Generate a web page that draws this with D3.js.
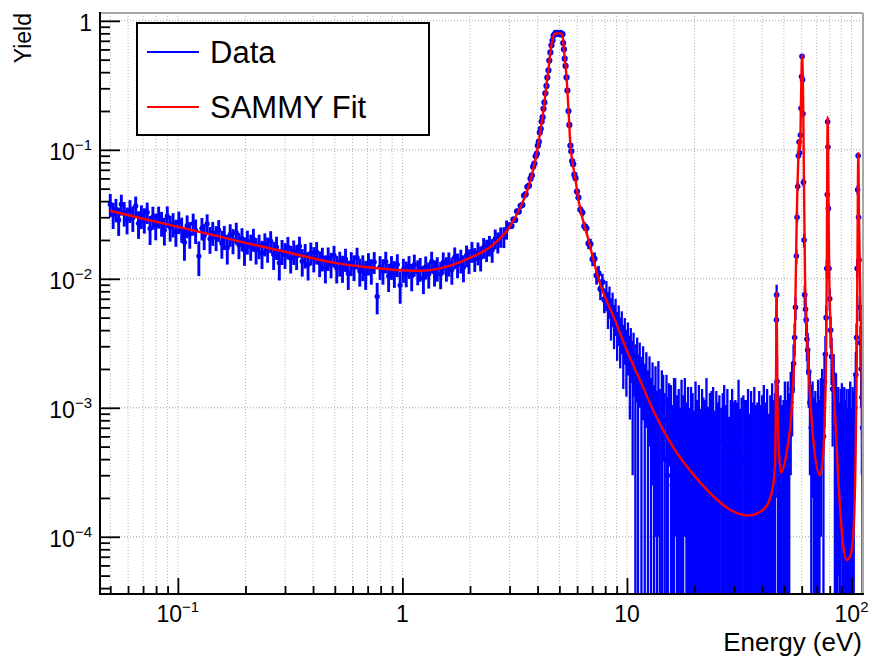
<!DOCTYPE html>
<html>
<head>
<meta charset="utf-8">
<script src="https://cdn.jsdelivr.net/npm/d3@7"></script>
<style>
body { margin: 0; background: #fff; }
text { font-family: "Liberation Sans", Arial, Helvetica, sans-serif; fill: #000; }
</style>
</head>
<body>
<script>
// ---------- values ----------
// axis ticks and labels
var xMajor = [0.1, 1, 10, 100];
var xLabels = [["10", "\u22121"], ["1", ""], ["10", ""], ["10", "2"]];
var yMajor = [1, 0.1, 0.01, 0.001, 0.0001];
var yLabels = [["1", ""], ["10", "\u22121"], ["10", "\u22122"], ["10", "\u22123"], ["10", "\u22124"]];
var legendNames = ["Data", "SAMMY Fit"];

// data points [energy eV, yield, error]
// 0.05 - 3 eV, flat part
var lowData = [
[0.050,0.0377,0.0077],[0.0515,0.0316,0.0073],[0.053,0.0345,0.0071],[0.0545,0.0286,0.0071],[0.056,0.0379,0.0070],
[0.0577,0.0324,0.0070],[0.0594,0.0289,0.0068],[0.0612,0.0339,0.0068],[0.063,0.0298,0.0067],[0.0649,0.0367,0.0067],
[0.0668,0.0269,0.0065],[0.0688,0.0307,0.0064],[0.0709,0.0288,0.0064],[0.073,0.0328,0.0062],[0.0752,0.0245,0.0062],
[0.0774,0.0301,0.0061],[0.0797,0.0260,0.0061],[0.0821,0.0304,0.0059],[0.0846,0.0271,0.0059],[0.0871,0.0239,0.0058],
[0.0897,0.0306,0.0058],[0.0924,0.0251,0.0057],[0.0952,0.0266,0.0057],[0.098,0.0232,0.0055],[0.101,0.0277,0.0055],
[0.104,0.0244,0.0054],[0.107,0.0192,0.0054],[0.110,0.0258,0.0052],[0.113,0.0223,0.0052],[0.117,0.0268,0.0052],
[0.120,0.0237,0.0051],[0.124,0.0150,0.0045],[0.128,0.0247,0.0049],[0.131,0.0216,0.0049],[0.135,0.0267,0.0049],
[0.139,0.0204,0.0048],[0.143,0.0228,0.0048],[0.148,0.0210,0.0046],[0.152,0.0239,0.0046],[0.157,0.0189,0.0046],
[0.161,0.0212,0.0045],[0.166,0.0174,0.0045],[0.171,0.0221,0.0044],[0.176,0.0199,0.0044],[0.182,0.0228,0.0044],
[0.187,0.0184,0.0042],[0.193,0.0205,0.0042],[0.198,0.0168,0.0042],[0.204,0.0195,0.0041],[0.211,0.0179,0.0041],
[0.217,0.0203,0.0041],[0.223,0.0168,0.0039],[0.230,0.0181,0.0039],[0.237,0.0158,0.0039],[0.244,0.0187,0.0038],
[0.251,0.0171,0.0038],[0.259,0.0196,0.0038],[0.267,0.0155,0.0038],[0.275,0.0176,0.0036],[0.283,0.0133,0.0036],
[0.291,0.0164,0.0036],[0.300,0.0154,0.0035],[0.309,0.0176,0.0035],[0.318,0.0145,0.0035],[0.328,0.0163,0.0035],
[0.338,0.0150,0.0033],[0.348,0.0179,0.0033],[0.358,0.0137,0.0033],[0.369,0.0153,0.0033],[0.380,0.0129,0.0032],
[0.391,0.0159,0.0032],[0.403,0.0144,0.0032],[0.415,0.0161,0.0032],[0.428,0.0133,0.0030],[0.440,0.0144,0.0030],
[0.454,0.0122,0.0030],[0.467,0.0145,0.0030],[0.481,0.0130,0.0029],[0.496,0.0151,0.0029],[0.510,0.0121,0.0029],
[0.526,0.0133,0.0029],[0.541,0.0122,0.0029],[0.558,0.0142,0.0029],[0.574,0.0110,0.0028],[0.592,0.0133,0.0028],
[0.609,0.0124,0.0028],[0.628,0.0146,0.0028],[0.646,0.0115,0.0028],[0.666,0.0124,0.0028],[0.686,0.0110,0.0028],
[0.706,0.0132,0.0026],[0.727,0.0116,0.0026],[0.749,0.0135,0.0026],[0.772,0.0073,0.0020],[0.795,0.0124,0.0026],
[0.819,0.0116,0.0026],[0.843,0.0136,0.0026],[0.868,0.0105,0.0026],[0.894,0.0124,0.0026],[0.921,0.0111,0.0026],
[0.949,0.0129,0.0026],[0.977,0.0089,0.0025],[1.01,0.0118,0.0025],[1.04,0.0111,0.0025],[1.07,0.0125,0.0025],
[1.10,0.0105,0.0025],[1.13,0.0129,0.0025],[1.17,0.0114,0.0025],[1.20,0.0120,0.0025],[1.24,0.0101,0.0025],
[1.27,0.0124,0.0025],[1.31,0.0109,0.0025],[1.35,0.0136,0.0026],[1.39,0.0113,0.0026],[1.43,0.0121,0.0026],
[1.48,0.0109,0.0026],[1.52,0.0134,0.0026],[1.57,0.0121,0.0026],[1.61,0.0132,0.0028],[1.66,0.0118,0.0028],
[1.71,0.0147,0.0028],[1.76,0.0129,0.0028],[1.82,0.0139,0.0029],[1.87,0.0123,0.0029],[1.93,0.0152,0.0029],
[1.98,0.0139,0.0030],[2.04,0.0163,0.0030],[2.10,0.0143,0.0030],[2.17,0.0159,0.0032],[2.23,0.0146,0.0032],
[2.30,0.0175,0.0032],[2.37,0.0168,0.0033],[2.44,0.0182,0.0033],[2.51,0.0168,0.0035],[2.59,0.0205,0.0036],
[2.66,0.0193,0.0036],[2.74,0.0212,0.0038],[2.83,0.0212,0.0039],[2.91,0.0242,0.0041]
];

// 3 - 8 eV, the big resonance
var resData = [
[3.00,0.0260,0.0014],[3.06,0.0257,0.0014],[3.12,0.0288,0.0015],[3.18,0.0286,0.0015],[3.24,0.0334,0.0016],
[3.30,0.0332,0.0016],[3.36,0.0368,0.0017],[3.42,0.0374,0.0018],[3.48,0.0442,0.0019],[3.54,0.0453,0.0020],
[3.60,0.0517,0.0021],[3.66,0.0527,0.0022],[3.72,0.0597,0.0023],[3.77,0.0634,0.0024],[3.82,0.0740,0.0026],
[3.87,0.0783,0.0027],[3.92,0.0890,0.0029],[3.97,0.0933,0.0030],[4.01,0.1076,0.0032],[4.05,0.1156,0.0034],
[4.09,0.136,0.0036],[4.13,0.1455,0.0038],[4.17,0.1656,0.0040],[4.21,0.179,0.0042],[4.25,0.208,0.0045],
[4.29,0.233,0.0048],[4.33,0.274,0.0052],[4.38,0.313,0.0055],[4.42,0.363,0.0059],[4.47,0.413,0.0063],
[4.51,0.492,0.0068],[4.56,0.569,0.0074],[4.61,0.646,0.0078],[4.66,0.703,0.0082],[4.71,0.768,0.0085],
[4.76,0.782,0.0087],[4.81,0.808,0.0088],[4.86,0.792,0.0088],[4.91,0.808,0.0088],[4.96,0.800,0.0088],
[5.01,0.792,0.0088],[5.06,0.808,0.0088],[5.11,0.782,0.0087],[5.16,0.788,0.0087],[5.20,0.673,0.0082],
[5.24,0.602,0.0078],[5.28,0.509,0.0072],[5.33,0.447,0.0067],[5.38,0.364,0.0061],[5.43,0.288,0.0055],
[5.49,0.200,0.0046],[5.54,0.156,0.0041],[5.60,0.108,0.0035],[5.65,0.0974,0.0033],[5.70,0.0819,0.0030],
[5.76,0.0774,0.0030],[5.83,0.0642,0.0028],[5.90,0.0603,0.0027],[5.99,0.0475,0.0025],[6.08,0.0426,0.0024],
[6.20,0.0344,0.0022],[6.33,0.0326,0.0022],[6.46,0.0256,0.0020],[6.60,0.0246,0.0020],[6.74,0.0188,0.0018],
[6.88,0.0186,0.0018],[7.03,0.0142,0.0017],[7.17,0.0143,0.0017],[7.32,0.0106,0.0016],[7.47,0.0110,0.0016],
[7.62,0.00834,0.0015],[7.77,0.00943,0.0015],[7.93,0.00692,0.0015]
];

// 8 - 46 eV, low statistics tail
var tailData = [
[8.10,0.00760,0.0020],[8.23,0.00598,0.0019],[8.36,0.00680,0.0019],[8.49,0.00512,0.0018],[8.63,0.00601,0.0018],
[8.76,0.00455,0.0017],[8.90,0.00530,0.0017],[9.04,0.00391,0.0016],[9.19,0.00462,0.0016],[9.33,0.00352,0.0015],
[9.48,0.00410,0.0015],[9.63,0.00290,0.0015],[9.78,0.00356,0.0014],[9.94,0.00262,0.0014],[10.1,0.00318,0.0014],
[10.3,0.00221,0.0014],[10.4,0.00285,0.0013],[10.6,0.00180,0.0015],[10.7,0.00252,0.0013],[10.9,0.00150,0.0016],
[11.1,0.00230,0.0012],[11.2,0.00120,0.0014],[11.4,0.00210,0.0011],[11.6,0.00118,0.0013],[11.8,0.00190,0.0011],
[12.0,0.00100,0.0012],[12.2,0.00170,0.0010],[12.4,0.00085,0.0011],[12.6,0.00150,0.0010],[12.8,0.00070,0.0010],
[13.0,0.00125,0.0010],[13.2,0.00060,0.0009],[13.4,0.00110,0.0010],[13.6,0.00045,0.0009],[13.8,0.00120,0.0011],
[14.0,0.00050,0.0009],[14.3,0.00085,0.0011],[14.5,0.00110,0.0007],[14.7,0.00040,0.0009],[15.0,0.00080,0.0010],
[15.2,0.00030,0.0009],[15.4,0.00095,0.0006],[15.7,0.00060,0.0009],[15.9,0.00025,0.0008],[16.2,0.00070,0.0010],
[16.4,0.00090,0.0008],[16.7,0.00035,0.0009],[17.0,0.00060,0.0008],[17.2,0.00020,0.0008],[17.5,0.00075,0.0009],
[17.8,0.00045,0.0008],[18.1,0.00090,0.0008],[18.4,0.00030,0.0008],[18.7,0.00055,0.0009],[19.0,0.00020,0.0008],
[19.3,0.00065,0.0008],[19.6,0.00040,0.0009],[19.9,0.00025,0.0007],[20.2,0.00070,0.0009],[20.5,0.00035,0.0008],
[20.9,0.00050,0.0010],[21.2,0.00018,0.0008],[21.6,0.00060,0.0008],[21.9,0.00030,0.0009],[22.3,0.00045,0.0007],
[22.6,0.00080,0.0009],[23.0,0.00022,0.0008],[23.4,0.00050,0.0008],[23.8,0.00035,0.0010],[24.2,0.00065,0.0008],
[24.6,0.00015,0.0008],[25.0,0.00045,0.0009],[25.4,0.00030,0.0008],[25.8,0.00055,0.0007],[26.3,0.00020,0.0008],
[26.7,0.00040,0.0009],[27.1,0.00070,0.0008],[27.6,0.00025,0.0008],[28.0,0.00050,0.0009],[28.5,0.00015,0.0007],
[29.0,0.00035,0.0008],[29.4,0.00060,0.0008],[29.9,0.00022,0.0009],[30.4,0.00045,0.0007],[30.9,0.00030,0.0008],
[31.4,0.00075,0.0009],[31.9,0.00018,0.0008],[32.4,0.00040,0.0008],[33.0,0.00055,0.0007],[33.5,0.00025,0.0009],
[34.0,0.00035,0.0008],[34.6,0.00060,0.0008],[35.2,0.00020,0.0007],[35.7,0.00045,0.0009],[36.3,0.00030,0.0008],
[36.9,0.00065,0.0008],[37.5,0.00015,0.0009],[38.1,0.00040,0.0007],[38.8,0.00055,0.0008],[39.4,0.00025,0.0008],
[40.0,0.00035,0.0009],[40.7,0.00070,0.0008],[41.4,0.00030,0.0008],[42.1,0.00050,0.0009],[42.8,0.00020,0.0007],
[43.5,0.00045,0.0008],[44.3,0.00065,0.0009],[45.0,0.00035,0.0008],[45.6,0.00060,0.0007]
];

// 46 - 113 eV, small resonances
var peakData = [
[46.0,0.00090,0.0007],[46.3,0.0048,0.0012],[46.4,0.0075,0.0015],[46.6,0.0016,0.0009],[47.0,0.00070,0.0008],
[47.6,0.00040,0.0008],[48.3,0.00055,0.0007],[49.0,0.00025,0.0008],[49.8,0.00045,0.0007],[50.5,0.00070,0.0009],
[51.3,0.00035,0.0008],[52.0,0.00080,0.0008],[52.8,0.00060,0.0007],[53.6,0.0011,0.0008],[54.4,0.0014,0.0008],
[55.2,0.0022,0.0009],[55.8,0.0035,0.0010],[56.3,0.0060,0.0012],[56.8,0.0150,0.0020],[57.2,0.030,0.003],
[57.6,0.052,0.004],[58.0,0.090,0.005],[58.4,0.115,0.006],[58.8,0.095,0.005],[59.2,0.13,0.006],
[59.6,0.21,0.008],[59.9,0.37,0.010],[60.2,0.53,0.012],[60.5,0.35,0.010],[60.8,0.19,0.007],
[61.1,0.056,0.004],[61.5,0.020,0.0025],[61.9,0.0075,0.0014],[62.4,0.0058,0.0013],[62.8,0.0048,0.0012],
[63.3,0.0034,0.0011],[63.8,0.0028,0.0010],[64.5,0.0019,0.0009],[65.3,0.0011,0.0008],[66.2,0.00070,0.0008],
[67.1,0.00090,0.0007],[68.0,0.00040,0.0008],[69.0,0.00065,0.0007],[70.0,0.00030,0.0008],[71.0,0.00075,0.0009],
[72.0,0.00045,0.0007],[73.0,0.00090,0.0008],[74.0,0.0012,0.0008],[75.0,0.00060,0.0009],[75.8,0.0016,0.0009],
[76.5,0.0026,0.0010],[77.1,0.0050,0.0012],[77.6,0.012,0.002],[78.0,0.045,0.004],[78.3,0.165,0.008],
[78.5,0.105,0.006],[78.9,0.035,0.003],[79.4,0.012,0.002],[80.0,0.0070,0.0014],[80.7,0.0040,0.0011],
[81.5,0.0025,0.0010],[82.4,0.0014,0.0009],[83.3,0.0018,0.0008],[84.3,0.00070,0.0008],[85.3,0.00095,0.0009],
[86.3,0.00040,0.0008],[87.3,0.00075,0.0007],[88.4,0.00030,0.0008],[89.5,0.00060,0.0008],[90.6,0.00085,0.0007],
[91.7,0.00025,0.0008],[92.8,0.00055,0.0009],[94.0,0.00035,0.0008],[95.1,0.00070,0.0007],[96.3,0.00020,0.0008],
[97.5,0.00050,0.0009],[98.7,0.00080,0.0008],[99.9,0.00030,0.0007],[101.1,0.00065,0.0008],[102.3,0.00045,0.0009],
[103.5,0.0010,0.0008],[104.5,0.0018,0.0009],[105.3,0.0035,0.0010],[105.9,0.012,0.002],[106.5,0.049,0.004],
[107.0,0.090,0.005],[107.5,0.030,0.003],[108.1,0.014,0.002],[108.8,0.0060,0.0013],[109.6,0.0032,0.0011],
[110.4,0.0020,0.0010],[111.2,0.0012,0.0009],[112.0,0.00070,0.0008]
];

// SAMMY fit [energy eV, yield]
var fitCurve = [
[0.05,0.0337],[0.07,0.0292],[0.1,0.0253],[0.15,0.0214],[0.2,0.0190],[0.3,0.0162],[0.5,0.0133],[0.7,0.0123],
[1.0,0.01164],[1.2,0.01153],[1.5,0.01217],[2.0,0.01455],[2.47,0.0177],[2.94,0.0240],[3.36,0.0361],[3.72,0.0585],
[3.99,0.100],[4.12,0.143],[4.25,0.204],[4.38,0.319],[4.47,0.417],[4.56,0.575],[4.66,0.71],[4.75,0.79],
[4.9,0.80],[5.05,0.80],[5.16,0.78],[5.24,0.596],[5.38,0.368],[5.49,0.204],[5.6,0.109],[5.7,0.0836],
[5.9,0.0585],[6.08,0.041],[6.74,0.020],[7.47,0.0100],[8.89,0.00468],[10.0,0.00277],[11.5,0.00160],[13.3,0.00090],
[16.0,0.00050],[19.1,0.000326],[23.4,0.000219],[28.8,0.000162],[34.7,0.000146],[40.5,0.000162],[44.1,0.000219],[45.6,0.00035],
[46.1,0.0015],[46.4,0.0078],[46.7,0.0015],[47.3,0.00055],[48.4,0.000315],[51.4,0.00045],[54.2,0.00102],[56.0,0.0040],
[56.8,0.020],[57.4,0.050],[58.0,0.090],[58.5,0.120],[59.0,0.100],[59.6,0.250],[60.2,0.545],[60.8,0.300],
[61.3,0.080],[62.1,0.0098],[64.2,0.00224],[67.6,0.00056],[72.4,0.00030],[74.9,0.00045],[76.2,0.0010],[77.0,0.00224],
[77.6,0.012],[78.3,0.180],[78.9,0.050],[79.6,0.0098],[83.0,0.00165],[87.3,0.000278],[91.9,0.000084],[95.2,0.000066],
[98.5,0.000070],[101.9,0.000107],[104.4,0.00050],[105.5,0.00224],[106.3,0.015],[107.2,0.095],[108.0,0.030],[109.1,0.0098],
[111.0,0.00165],[112.5,0.00010]
];

// ---------- layout ----------
var svgWidth = 876, svgHeight = 657;
var frame = { left: 100, right: 863, top: 13, bottom: 594 };

var svg = d3.select("body").append("svg")
    .attr("width", svgWidth)
    .attr("height", svgHeight);

var x = d3.scaleLog().domain([0.045, 112.5]).range([frame.left, frame.right]);
var y = d3.scaleLog().domain([3.6e-5, 1.15]).range([frame.bottom, frame.top]);

svg.append("clipPath").attr("id", "frameClip")
  .append("rect")
    .attr("x", frame.left).attr("y", frame.top)
    .attr("width", frame.right - frame.left).attr("height", frame.bottom - frame.top);

// grid: vertical at every tick, horizontal at decades only
var xTicksAll = x.ticks();
var yTicksAll = y.ticks();
var xMinor = xTicksAll.filter(d => xMajor.indexOf(d) < 0);
var yMinor = yTicksAll.filter(d => yMajor.indexOf(d) < 0);

var grid = svg.append("g");
grid.selectAll(".vgrid").data(xTicksAll).enter().append("line")
    .attr("x1", d => x(d)).attr("x2", d => x(d))
    .attr("y1", frame.top).attr("y2", frame.bottom)
    .attr("stroke", "#b4b4b4").attr("stroke-width", 1).attr("stroke-dasharray", "1,2");
grid.selectAll(".hgrid").data(yMajor).enter().append("line")
    .attr("x1", frame.left).attr("x2", frame.right)
    .attr("y1", d => y(d)).attr("y2", d => y(d))
    .attr("stroke", "#a0a0a0").attr("stroke-width", 1).attr("stroke-dasharray", "1,2");

// data with error bars
var yMin = y.domain()[0];
var plot = svg.append("g").attr("clip-path", "url(#frameClip)");

function drawPoints(data, barWidth, markerR) {
    var g = plot.append("g");
    g.selectAll("line").data(data).enter().append("line")
        .attr("x1", d => x(d[0])).attr("x2", d => x(d[0]))
        .attr("y1", d => y(d[1] + d[2]))
        .attr("y2", d => d[1] - d[2] > yMin ? y(d[1] - d[2]) : frame.bottom + 2)
        .attr("stroke", "#0000ff").attr("stroke-width", barWidth);
    g.selectAll("circle").data(data).enter().append("circle")
        .attr("cx", d => x(d[0])).attr("cy", d => y(d[1]))
        .attr("r", markerR)
        .attr("fill", "#0000ff");
}
drawPoints(lowData, 2.9, 2.6);
drawPoints(resData, 2.6, 3.1);
drawPoints(tailData, 2.3, 2.6);
drawPoints(peakData, 2.3, 2.8);

// fit
var fitLine = d3.line()
    .x(d => x(d[0]))
    .y(d => y(d[1]))
    .curve(d3.curveMonotoneX);
plot.append("path")
    .datum(fitCurve)
    .attr("d", fitLine)
    .attr("fill", "none")
    .attr("stroke", "#ff0000")
    .attr("stroke-width", 2.4);

// frame: grey top/right, black axes
svg.append("line").attr("x1", frame.left).attr("x2", frame.right).attr("y1", frame.top).attr("y2", frame.top)
    .attr("stroke", "#a8a8a8").attr("stroke-width", 2);
svg.append("line").attr("x1", frame.right).attr("x2", frame.right).attr("y1", frame.top).attr("y2", frame.bottom)
    .attr("stroke", "#a8a8a8").attr("stroke-width", 2);

// x axis (ticks point inward)
svg.append("g").attr("transform", `translate(0,${frame.bottom})`)
    .call(d3.axisBottom(x).tickValues(xMinor).tickSize(-8).tickFormat(""))
    .call(g => g.select(".domain").remove());
svg.append("g").attr("transform", `translate(0,${frame.bottom})`)
    .call(d3.axisBottom(x).tickValues(xMajor).tickSize(-16).tickFormat(""))
    .call(g => g.select(".domain").remove());
// y axis
svg.append("g").attr("transform", `translate(${frame.left},0)`)
    .call(d3.axisLeft(y).tickValues(yMinor).tickSize(-10).tickFormat(""))
    .call(g => g.select(".domain").remove());
svg.append("g").attr("transform", `translate(${frame.left},0)`)
    .call(d3.axisLeft(y).tickValues(yMajor).tickSize(-20).tickFormat(""))
    .call(g => g.select(".domain").remove());
svg.selectAll(".tick line").attr("stroke", "#000").attr("stroke-width", 1.8);

svg.append("line").attr("x1", frame.left).attr("x2", frame.right + 1).attr("y1", frame.bottom).attr("y2", frame.bottom)
    .attr("stroke", "#000").attr("stroke-width", 2);
svg.append("line").attr("x1", frame.left).attr("x2", frame.left).attr("y1", frame.top - 1).attr("y2", frame.bottom + 1)
    .attr("stroke", "#000").attr("stroke-width", 2);

// tick labels with superscripts
xMajor.forEach(function (v, i) {
    var t = svg.append("text")
        .attr("x", x(v)).attr("y", 622)
        .attr("text-anchor", "middle")
        .attr("font-size", 23);
    t.append("tspan").text(xLabels[i][0]);
    if (xLabels[i][1]) t.append("tspan").attr("dy", -10).attr("font-size", 15).text(xLabels[i][1]);
});
yMajor.forEach(function (v, i) {
    var t = svg.append("text")
        .attr("x", 92).attr("y", y(v) + 10)
        .attr("text-anchor", "end")
        .attr("font-size", 23);
    t.append("tspan").text(yLabels[i][0]);
    if (yLabels[i][1]) t.append("tspan").attr("dy", -10).attr("font-size", 15).text(yLabels[i][1]);
});

// axis titles
svg.append("text")
    .attr("x", 862).attr("y", 651)
    .attr("text-anchor", "end")
    .attr("font-size", 26)
    .text("Energy (eV)");
svg.append("text")
    .attr("transform", "translate(31,13) rotate(-90)")
    .attr("text-anchor", "end")
    .attr("font-size", 23)
    .text("Yield");

// legend
var legend = svg.append("g");
legend.append("rect")
    .attr("x", 137).attr("y", 23).attr("width", 292).attr("height", 112)
    .attr("fill", "#fff").attr("stroke", "#000").attr("stroke-width", 2);
var legendColors = ["#0000ff", "#ff0000"];
legendNames.forEach(function (name, i) {
    var ly = 52 + i * 55;
    legend.append("line")
        .attr("x1", 147).attr("x2", 199).attr("y1", ly).attr("y2", ly)
        .attr("stroke", legendColors[i]).attr("stroke-width", 2);
    legend.append("text")
        .attr("x", 210).attr("y", ly + 11)
        .attr("font-size", 31)
        .text(name);
});
</script>
</body>
</html>
